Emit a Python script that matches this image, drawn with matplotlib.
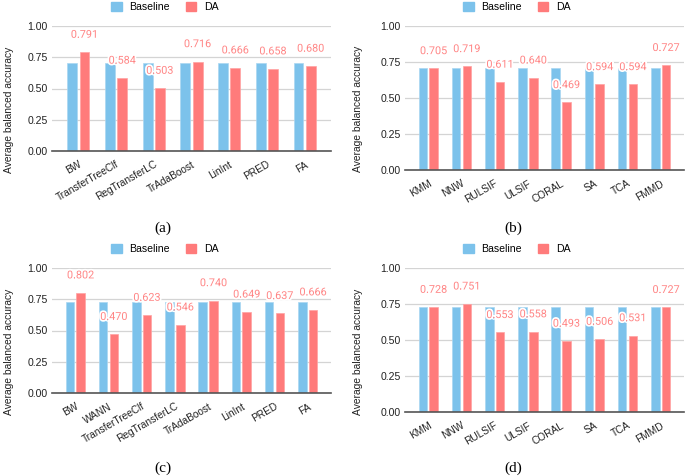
import matplotlib
matplotlib.use("Agg")
import matplotlib.pyplot as plt
import matplotlib.patheffects as pe
from matplotlib.patches import Patch
import numpy as np

# ---- data ----
cats_a = ['BW', 'TransferTreeClf', 'RegTransferLC', 'TrAdaBoost', 'LinInt', 'PRED', 'FA']
base_a = [0.705, 0.705, 0.705, 0.705, 0.705, 0.705, 0.705]
da_a = [0.791, 0.584, 0.503, 0.716, 0.666, 0.658, 0.680]

cats_b = ['KMM', 'NNW', 'RULSIF', 'ULSIF', 'CORAL', 'SA', 'TCA', 'FMMD']
base_b = [0.705, 0.705, 0.705, 0.705, 0.705, 0.705, 0.705, 0.705]
da_b = [0.705, 0.719, 0.611, 0.640, 0.469, 0.594, 0.594, 0.727]

cats_c = ['BW', 'WANN', 'TransferTreeClf', 'RegTransferLC', 'TrAdaBoost', 'LinInt', 'PRED', 'FA']
base_c = [0.728, 0.728, 0.728, 0.728, 0.728, 0.728, 0.728, 0.728]
da_c = [0.802, 0.470, 0.623, 0.546, 0.740, 0.649, 0.637, 0.666]

cats_d = ['KMM', 'NNW', 'RULSIF', 'ULSIF', 'CORAL', 'SA', 'TCA', 'FMMD']
base_d = [0.728, 0.728, 0.728, 0.728, 0.728, 0.728, 0.728, 0.728]
da_d = [0.728, 0.751, 0.553, 0.558, 0.493, 0.506, 0.531, 0.727]

yticks = [0.00, 0.25, 0.50, 0.75, 1.00]
captions = ['(a)', '(b)', '(c)', '(d)']

BLUE = '#7cc2eb'
RED = '#ff7b7b'
LABEL_RED = '#ff8585'
SANS = ['Liberation Sans', 'DejaVu Sans']

W, H = 685, 476
fig = plt.figure(figsize=(W / 100, H / 100), dpi=100)

def fx(px):
    return px / W

def fy(py):
    return 1 - py / H

# axes rectangles in pixel coordinates: left, right, top(1.00), bottom(0.00)
panels = [
    dict(cats=cats_a, base=base_a, da=da_a, box=(52, 331, 26, 151),
         leg=(165, 7), ylab=(9, 110), cap=(163, 228)),
    dict(cats=cats_b, base=base_b, da=da_b, box=(405, 684, 26, 170),
         leg=(517, 7), ylab=(358, 109), cap=(513, 228)),
    dict(cats=cats_c, base=base_c, da=da_c, box=(52, 331, 268, 393),
         leg=(165, 249), ylab=(9, 352), cap=(163, 468)),
    dict(cats=cats_d, base=base_d, da=da_d, box=(405, 684, 268, 412),
         leg=(517, 249), ylab=(358, 352), cap=(513, 468)),
]

bw = 0.26
off = 0.163
pad = 0.7

for i, p in enumerate(panels):
    l, r, t, b = p['box']
    ax = fig.add_axes([fx(l), fy(b), fx(r) - fx(l), fy(t) - fy(b)])
    n = len(p['cats'])
    x = np.arange(n)
    ax.bar(x - off, p['base'], width=bw, color=BLUE, zorder=3,
           edgecolor='#a9d6f2', linewidth=0.5)
    ax.bar(x + off, p['da'], width=bw, color=RED, zorder=3,
           edgecolor='#ffa3a3', linewidth=0.5)
    for xi, v in zip(x, p['da']):
        ax.annotate(f"{v:.3f}", xy=(xi + off, v), xytext=(0, 12.5),
                    textcoords='offset points', ha='center', va='center',
                    fontsize=7.8, color=LABEL_RED, family=['Roboto', 'DejaVu Sans'],
                    zorder=5, annotation_clip=False,
                    path_effects=[pe.withStroke(linewidth=2.5, foreground='white')])
    ax.set_xlim(-pad, n - 1 + pad)
    ax.set_ylim(0, 1.0)
    ax.set_yticks(yticks)
    ax.set_yticklabels([f"{v:.2f}" for v in yticks], fontsize=7.6, family=SANS,
                       color='#222222')
    ax.set_xticks(x)
    ax.set_xticklabels(p['cats'], rotation=30, ha='right', rotation_mode='anchor',
                       fontsize=7.3, family=SANS, color='#222222')
    ax.tick_params(axis='both', length=0)
    ax.tick_params(axis='y', pad=3)
    ax.tick_params(axis='x', pad=6)
    for s in ['top', 'right', 'left']:
        ax.spines[s].set_visible(False)
    ax.spines['bottom'].set_color('#555555')
    ax.spines['bottom'].set_linewidth(1.2)
    ax.spines['bottom'].set_zorder(4)
    ax.yaxis.grid(True, color='#d4d4d4', linewidth=0.9, zorder=0)
    ax.set_axisbelow(True)

    fig.text(fx(p['ylab'][0]), fy(p['ylab'][1]), 'Average balanced accuracy',
             rotation=90, ha='center', va='center', fontsize=7.4, family=SANS,
             color='#222222')
    fig.text(fx(p['cap'][0]), fy(p['cap'][1]), captions[i], ha='center', va='center',
             fontsize=11, family=['Liberation Serif', 'DejaVu Serif'])
    handles = [Patch(facecolor=BLUE, edgecolor=BLUE, label='Baseline'),
               Patch(facecolor=RED, edgecolor=RED, label='DA')]
    fig.legend(handles=handles, loc='center', ncol=2, frameon=False,
               bbox_to_anchor=(fx(p['leg'][0]), fy(p['leg'][1])),
               prop={'family': SANS, 'size': 7.6}, handlelength=1.0,
               handleheight=1.0, handletextpad=0.75, columnspacing=1.5,
               borderaxespad=0, borderpad=0)

fig.savefig('out.png', dpi=100)
